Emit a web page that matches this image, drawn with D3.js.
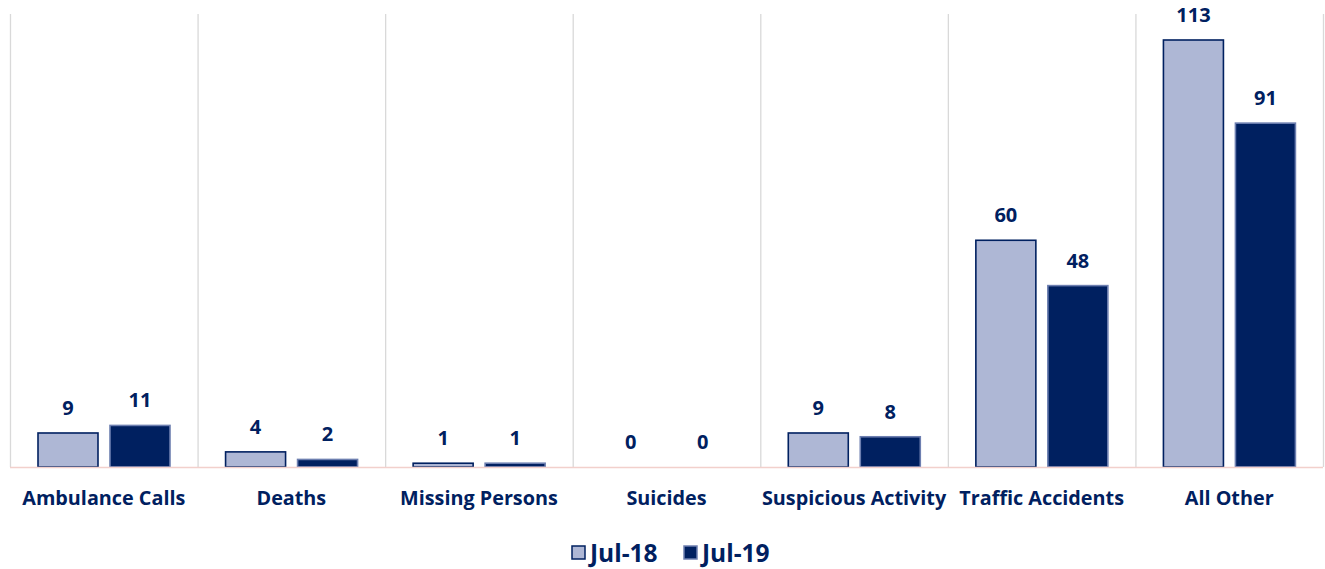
<!DOCTYPE html>
<html><head><meta charset="utf-8">
<script src="https://cdn.jsdelivr.net/npm/d3@7"></script>
<style>body{margin:0;background:#fff;font-family:"Open Sans",sans-serif;}</style>
</head><body><svg id="c" width="1325" height="569"></svg>
<script>
const categories = ["Ambulance Calls","Deaths","Missing Persons","Suicides","Suspicious Activity","Traffic Accidents","All Other"];
const seriesNames = ["Jul-18","Jul-19"];
const jul18 = [9,4,1,0,9,60,113];
const jul19 = [11,2,1,0,8,48,91];
const colors = ["#AEB7D5","#002060"];
const values = [jul18, jul19];

const svg = d3.select("#c");
const x0 = d3.scaleBand().domain(categories).range([10,1323]).paddingInner(0);
const x1 = d3.scaleBand().domain(seriesNames).range([28,160]).paddingInner(0.1667);
const y = d3.scaleLinear().domain([0,113]).range([467,40]);
const navy = "#002060";
const fontFam = "'Open Sans', sans-serif";

// vertical separators
const seps = d3.range(categories.length+1).map(i => i===categories.length ? 1323 : x0(categories[i]));
svg.selectAll("line.sep").data(seps).enter().append("line")
  .attr("x1",d=>d+0.5).attr("x2",d=>d+0.5).attr("y1",14).attr("y2",467)
  .attr("stroke","#D9D9D9").attr("stroke-width",1.3);

const g = svg.selectAll("g.cat").data(categories).enter().append("g")
  .attr("transform",d=>`translate(${x0(d)},0)`);

seriesNames.forEach((s,si)=>{
  g.append("rect")
    .attr("x",x1(s)).attr("width",x1.bandwidth())
    .attr("y",(d,i)=>y(values[si][i])).attr("height",(d,i)=>y(0)-y(values[si][i]))
    .attr("fill",colors[si])
    .attr("stroke", si===0 ? navy : "#6D7FB0")
    .attr("stroke-width", 1.6)
    .style("display",(d,i)=>values[si][i]===0?"none":null);
  g.append("text")
    .attr("x",x1(s)+x1.bandwidth()/2)
    .attr("y",(d,i)=>y(values[si][i])-18)
    .attr("text-anchor","middle")
    .attr("font-family",fontFam)
    .attr("font-size",20).attr("font-weight",700).attr("fill",navy)
    .text((d,i)=>values[si][i]);
});

// baseline
svg.append("line").attr("x1",10).attr("x2",1323).attr("y1",467.5).attr("y2",467.5)
  .attr("stroke","#F2D0CC").attr("stroke-width",1.3);

// category labels
svg.append("g").selectAll("text").data(categories).enter().append("text")
  .attr("x",d=>x0(d)+x0.bandwidth()/2).attr("y",505)
  .attr("text-anchor","middle").attr("font-family",fontFam)
  .attr("font-size",19.8).attr("font-weight",700).attr("fill",navy)
  .text(d=>d);

// legend
const leg = svg.append("g");
const legX = [572,684];
seriesNames.forEach((s,i)=>{
  leg.append("rect").attr("x",legX[i]).attr("y",546).attr("width",13).attr("height",13)
    .attr("fill",colors[i]).attr("stroke", i===0?navy:"#6D7FB0").attr("stroke-width",1.5);
  leg.append("text").attr("x",legX[i]+18).attr("y",562).attr("font-family",fontFam)
    .attr("font-size",24.5).attr("font-weight",700).attr("fill",navy).text(s);
});
</script></body></html>
